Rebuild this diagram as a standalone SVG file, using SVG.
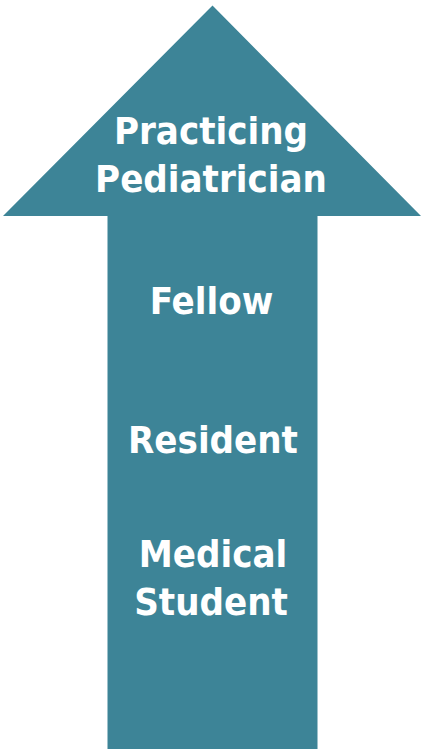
<svg xmlns="http://www.w3.org/2000/svg" width="423" height="749" viewBox="0 0 423 749">
<style>
.arrow{fill:#3D8497;}
.lbl{fill:#FFFFFF;font-family:"DejaVu Sans Condensed","DejaVu Sans",sans-serif;font-weight:bold;font-size:38px;text-anchor:middle;}
</style>
<rect width="423" height="749" fill="#FFFFFF"/>
<g id="arrow">
<polygon class="arrow" points="212.5,5.5 421,216 317.5,216 317.5,749 107.5,749 107.5,216 3,216"/>
</g>
<g id="practicing-pediatrician">
<text class="lbl" x="211" y="144">Practicing</text>
<text class="lbl" x="211" y="192">Pediatrician</text>
</g>
<g id="fellow">
<text class="lbl" x="211.5" y="314">Fellow</text>
</g>
<g id="resident">
<text class="lbl" x="213" y="453">Resident</text>
</g>
<g id="medical-student">
<text class="lbl" x="213" y="567">Medical</text>
<text class="lbl" x="211" y="615">Student</text>
</g>
</svg>
